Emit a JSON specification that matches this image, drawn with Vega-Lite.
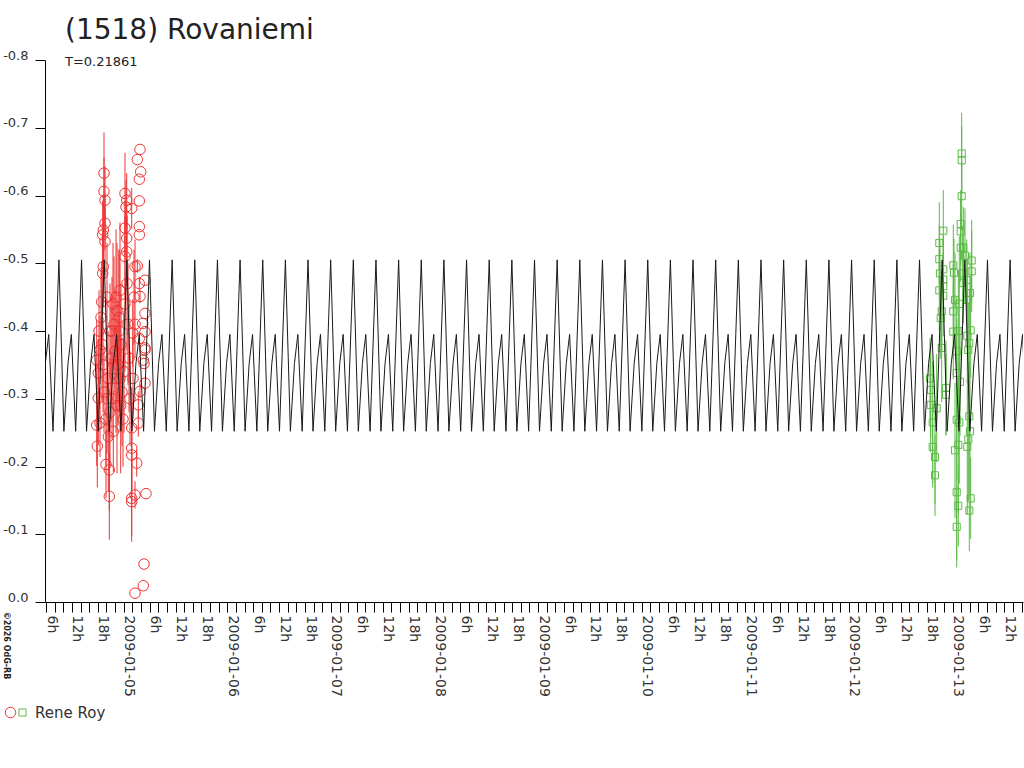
{
"$schema": "https://vega.github.io/schema/vega-lite/v6.json",
"width": 978, "height": 542,
"autosize": "none",
"padding": {"left": 45, "top": 60, "right": 1, "bottom": 166},
"background": "white",
"title": {"text": "(1518) Rovaniemi", "subtitle": "T=0.21861", "anchor": "start", "frame": "group", "dx": 20, "offset": -20, "font": "DejaVu Sans", "fontSize": 28, "fontWeight": "normal", "color": "#222", "subtitleFont": "DejaVu Sans", "subtitleFontSize": 13, "subtitleColor": "#222", "subtitlePadding": 11},
"config": {"view": {"stroke": null}, "legend": {"columnPadding": -8, "gridAlign": "none"}},
"datasets": {
"model": [
{"x":0.156,"y":-0.505},{"x":0.204,"y":-0.252},{"x":0.2434,"y":-0.352},{"x":0.2762,"y":-0.395},{"x":0.3177,"y":-0.252},
{"x":0.3746,"y":-0.505},{"x":0.4227,"y":-0.252},{"x":0.462,"y":-0.352},{"x":0.4948,"y":-0.395},{"x":0.5363,"y":-0.252},
{"x":0.5932,"y":-0.505},{"x":0.6413,"y":-0.252},{"x":0.6806,"y":-0.352},{"x":0.7134,"y":-0.395},{"x":0.7549,"y":-0.252},
{"x":0.8118,"y":-0.505},{"x":0.8599,"y":-0.252},{"x":0.8992,"y":-0.352},{"x":0.932,"y":-0.395},{"x":0.9736,"y":-0.252},
{"x":1.0304,"y":-0.505},{"x":1.0785,"y":-0.252},{"x":1.1178,"y":-0.352},{"x":1.1506,"y":-0.395},{"x":1.1922,"y":-0.252},
{"x":1.249,"y":-0.505},{"x":1.2971,"y":-0.252},{"x":1.3364,"y":-0.352},{"x":1.3692,"y":-0.395},{"x":1.4108,"y":-0.252},
{"x":1.4676,"y":-0.505},{"x":1.5157,"y":-0.252},{"x":1.5551,"y":-0.352},{"x":1.5879,"y":-0.395},{"x":1.6294,"y":-0.252},
{"x":1.6862,"y":-0.505},{"x":1.7343,"y":-0.252},{"x":1.7737,"y":-0.352},{"x":1.8065,"y":-0.395},{"x":1.848,"y":-0.252},
{"x":1.9048,"y":-0.505},{"x":1.9529,"y":-0.252},{"x":1.9923,"y":-0.352},{"x":2.0251,"y":-0.395},{"x":2.0666,"y":-0.252},
{"x":2.1234,"y":-0.505},{"x":2.1715,"y":-0.252},{"x":2.2109,"y":-0.352},{"x":2.2437,"y":-0.395},{"x":2.2852,"y":-0.252},
{"x":2.3421,"y":-0.505},{"x":2.3901,"y":-0.252},{"x":2.4295,"y":-0.352},{"x":2.4623,"y":-0.395},{"x":2.5038,"y":-0.252},
{"x":2.5607,"y":-0.505},{"x":2.6088,"y":-0.252},{"x":2.6481,"y":-0.352},{"x":2.6809,"y":-0.395},{"x":2.7224,"y":-0.252},
{"x":2.7793,"y":-0.505},{"x":2.8274,"y":-0.252},{"x":2.8667,"y":-0.352},{"x":2.8995,"y":-0.395},{"x":2.941,"y":-0.252},
{"x":2.9979,"y":-0.505},{"x":3.046,"y":-0.252},{"x":3.0853,"y":-0.352},{"x":3.1181,"y":-0.395},{"x":3.1597,"y":-0.252},
{"x":3.2165,"y":-0.505},{"x":3.2646,"y":-0.252},{"x":3.3039,"y":-0.352},{"x":3.3367,"y":-0.395},{"x":3.3783,"y":-0.252},
{"x":3.4351,"y":-0.505},{"x":3.4832,"y":-0.252},{"x":3.5225,"y":-0.352},{"x":3.5553,"y":-0.395},{"x":3.5969,"y":-0.252},
{"x":3.6537,"y":-0.505},{"x":3.7018,"y":-0.252},{"x":3.7412,"y":-0.352},{"x":3.774,"y":-0.395},{"x":3.8155,"y":-0.252},
{"x":3.8723,"y":-0.505},{"x":3.9204,"y":-0.252},{"x":3.9598,"y":-0.352},{"x":3.9926,"y":-0.395},{"x":4.0341,"y":-0.252},
{"x":4.0909,"y":-0.505},{"x":4.139,"y":-0.252},{"x":4.1784,"y":-0.352},{"x":4.2112,"y":-0.395},{"x":4.2527,"y":-0.252},
{"x":4.3095,"y":-0.505},{"x":4.3576,"y":-0.252},{"x":4.397,"y":-0.352},{"x":4.4298,"y":-0.395},{"x":4.4713,"y":-0.252},
{"x":4.5282,"y":-0.505},{"x":4.5762,"y":-0.252},{"x":4.6156,"y":-0.352},{"x":4.6484,"y":-0.395},{"x":4.6899,"y":-0.252},
{"x":4.7468,"y":-0.505},{"x":4.7949,"y":-0.252},{"x":4.8342,"y":-0.352},{"x":4.867,"y":-0.395},{"x":4.9085,"y":-0.252},
{"x":4.9654,"y":-0.505},{"x":5.0135,"y":-0.252},{"x":5.0528,"y":-0.352},{"x":5.0856,"y":-0.395},{"x":5.1271,"y":-0.252},
{"x":5.184,"y":-0.505},{"x":5.2321,"y":-0.252},{"x":5.2714,"y":-0.352},{"x":5.3042,"y":-0.395},{"x":5.3458,"y":-0.252},
{"x":5.4026,"y":-0.505},{"x":5.4507,"y":-0.252},{"x":5.49,"y":-0.352},{"x":5.5228,"y":-0.395},{"x":5.5644,"y":-0.252},
{"x":5.6212,"y":-0.505},{"x":5.6693,"y":-0.252},{"x":5.7086,"y":-0.352},{"x":5.7414,"y":-0.395},{"x":5.783,"y":-0.252},
{"x":5.8398,"y":-0.505},{"x":5.8879,"y":-0.252},{"x":5.9273,"y":-0.352},{"x":5.9601,"y":-0.395},{"x":6.0016,"y":-0.252},
{"x":6.0584,"y":-0.505},{"x":6.1065,"y":-0.252},{"x":6.1459,"y":-0.352},{"x":6.1787,"y":-0.395},{"x":6.2202,"y":-0.252},
{"x":6.277,"y":-0.505},{"x":6.3251,"y":-0.252},{"x":6.3645,"y":-0.352},{"x":6.3973,"y":-0.395},{"x":6.4388,"y":-0.252},
{"x":6.4956,"y":-0.505},{"x":6.5437,"y":-0.252},{"x":6.5831,"y":-0.352},{"x":6.6159,"y":-0.395},{"x":6.6574,"y":-0.252},
{"x":6.7143,"y":-0.505},{"x":6.7623,"y":-0.252},{"x":6.8017,"y":-0.352},{"x":6.8345,"y":-0.395},{"x":6.876,"y":-0.252},
{"x":6.9329,"y":-0.505},{"x":6.981,"y":-0.252},{"x":7.0203,"y":-0.352},{"x":7.0531,"y":-0.395},{"x":7.0946,"y":-0.252},
{"x":7.1515,"y":-0.505},{"x":7.1996,"y":-0.252},{"x":7.2389,"y":-0.352},{"x":7.2717,"y":-0.395},{"x":7.3132,"y":-0.252},
{"x":7.3701,"y":-0.505},{"x":7.4182,"y":-0.252},{"x":7.4575,"y":-0.352},{"x":7.4903,"y":-0.395},{"x":7.5319,"y":-0.252},
{"x":7.5887,"y":-0.505},{"x":7.6368,"y":-0.252},{"x":7.6761,"y":-0.352},{"x":7.7089,"y":-0.395},{"x":7.7505,"y":-0.252},
{"x":7.8073,"y":-0.505},{"x":7.8554,"y":-0.252},{"x":7.8947,"y":-0.352},{"x":7.9275,"y":-0.395},{"x":7.9691,"y":-0.252},
{"x":8.0259,"y":-0.505},{"x":8.074,"y":-0.252},{"x":8.1134,"y":-0.352},{"x":8.1462,"y":-0.395},{"x":8.1877,"y":-0.252},
{"x":8.2445,"y":-0.505},{"x":8.2926,"y":-0.252},{"x":8.332,"y":-0.352},{"x":8.3648,"y":-0.395},{"x":8.4063,"y":-0.252},
{"x":8.4631,"y":-0.505},{"x":8.5112,"y":-0.252},{"x":8.5506,"y":-0.352},{"x":8.5834,"y":-0.395},{"x":8.6249,"y":-0.252},
{"x":8.6817,"y":-0.505},{"x":8.7298,"y":-0.252},{"x":8.7692,"y":-0.352},{"x":8.802,"y":-0.395},{"x":8.8435,"y":-0.252},
{"x":8.9004,"y":-0.505},{"x":8.9484,"y":-0.252},{"x":8.9878,"y":-0.352},{"x":9.0206,"y":-0.395},{"x":9.0621,"y":-0.252},
{"x":9.119,"y":-0.505},{"x":9.1671,"y":-0.252},{"x":9.2064,"y":-0.352},{"x":9.2392,"y":-0.395},{"x":9.2807,"y":-0.252},
{"x":9.3376,"y":-0.505},{"x":9.3857,"y":-0.252},{"x":9.425,"y":-0.352},{"x":9.4578,"y":-0.395},{"x":9.4993,"y":-0.252},
{"x":9.5562,"y":-0.505},{"x":9.6043,"y":-0.252},{"x":9.6436,"y":-0.352},{"x":9.6764,"y":-0.395},{"x":9.7179,"y":-0.252},
{"x":9.7748,"y":-0.505}
],
"obs": [
{"s":"R1","x":1.1573,"y":-0.668,"e":0},{"s":"R1","x":1.1313,"y":-0.653,"e":0},{"s":"R1","x":1.1641,"y":-0.635,"e":0},{"s":"R1","x":1.1506,"y":-0.624,"e":0},
{"s":"R1","x":1.1506,"y":-0.592,"e":0},{"s":"R1","x":1.1506,"y":-0.554,"e":0},{"s":"R1","x":1.1506,"y":-0.542,"e":0},{"s":"R1","x":1.1313,"y":-0.496,"e":0.01},
{"s":"R1","x":1.1506,"y":-0.47,"e":0.01},{"s":"R1","x":1.2056,"y":-0.475,"e":0},{"s":"R1","x":1.1573,"y":-0.451,"e":0.01},{"s":"R1","x":1.2056,"y":-0.426,"e":0},
{"s":"R1","x":1.1834,"y":-0.411,"e":0},{"s":"R1","x":1.2056,"y":-0.399,"e":0},{"s":"R1","x":1.1506,"y":-0.389,"e":0.01},{"s":"R1","x":1.2056,"y":-0.372,"e":0},
{"s":"R1","x":1.1892,"y":-0.357,"e":0},{"s":"R1","x":1.2056,"y":-0.375,"e":0},{"s":"R1","x":1.1959,"y":-0.352,"e":0},{"s":"R1","x":1.2056,"y":-0.323,"e":0},
{"s":"R1","x":1.1573,"y":-0.311,"e":0.01},{"s":"R1","x":1.1409,"y":-0.291,"e":0.02},{"s":"R1","x":1.1409,"y":-0.264,"e":0.02},{"s":"R1","x":1.1255,"y":-0.205,"e":0.02},
{"s":"R1","x":1.2153,"y":-0.16,"e":0},{"s":"R1","x":1.1959,"y":-0.056,"e":0},{"s":"R1","x":1.1892,"y":-0.024,"e":0},{"s":"R1","x":1.1091,"y":-0.013,"e":0},
{"s":"R1","x":1.1091,"y":-0.158,"e":0.02},{"s":"R1","x":1.1091,"y":-0.495,"e":0.04},{"s":"R1","x":1.1091,"y":-0.41,"e":0.05},
{"s":"R1","x":0.8099,"y":-0.633,"e":0.06},{"s":"R1","x":0.8099,"y":-0.606,"e":0.05},{"s":"R1","x":0.8195,"y":-0.593,"e":0.05},{"s":"R1","x":1.0125,"y":-0.603,"e":0.06},
{"s":"R1","x":1.029,"y":-0.593,"e":0.04},{"s":"R1","x":1.0222,"y":-0.583,"e":0.04},{"s":"R1","x":1.0772,"y":-0.581,"e":0.03},{"s":"R1","x":1.0125,"y":-0.552,"e":0.04},
{"s":"R1","x":1.029,"y":-0.537,"e":0.04},{"s":"R1","x":0.8195,"y":-0.559,"e":0.04},{"s":"R1","x":0.8031,"y":-0.549,"e":0.05},{"s":"R1","x":0.7973,"y":-0.542,"e":0.05},
{"s":"R1","x":0.8195,"y":-0.532,"e":0.05},{"s":"R1","x":1.029,"y":-0.517,"e":0.05},{"s":"R1","x":1.0125,"y":-0.51,"e":0.06},{"s":"R1","x":0.8031,"y":-0.495,"e":0.06},
{"s":"R1","x":0.7973,"y":-0.485,"e":0.06},{"s":"R1","x":0.7876,"y":-0.443,"e":0.06},{"s":"R1","x":1.0869,"y":-0.397,"e":0.05},{"s":"R1","x":0.7712,"y":-0.372,"e":0.05},
{"s":"R1","x":0.7394,"y":-0.357,"e":0.06},{"s":"R1","x":0.7548,"y":-0.338,"e":0.05},{"s":"R1","x":0.7548,"y":-0.301,"e":0.07},{"s":"R1","x":0.7394,"y":-0.261,"e":0.06},
{"s":"R1","x":0.7712,"y":-0.264,"e":0.05},{"s":"R1","x":1.0772,"y":-0.257,"e":0.06},{"s":"R1","x":0.8996,"y":-0.252,"e":0.06},{"s":"R1","x":0.8514,"y":-0.244,"e":0.08},
{"s":"R1","x":0.7452,"y":-0.23,"e":0.061},{"s":"R1","x":1.0772,"y":-0.227,"e":0.06},{"s":"R1","x":1.0772,"y":-0.217,"e":0.07},{"s":"R1","x":0.8292,"y":-0.203,"e":0.05},
{"s":"R1","x":0.861,"y":-0.195,"e":0.06},{"s":"R1","x":0.861,"y":-0.156,"e":0.064},{"s":"R1","x":1.0772,"y":-0.153,"e":0.064},{"s":"R1","x":1.0772,"y":-0.148,"e":0.05},
{"s":"R1","x":0.971,"y":-0.29,"e":0.1},{"s":"R1","x":0.9353,"y":-0.43,"e":0.1},{"s":"R1","x":0.9546,"y":-0.4,"e":0.12},
{"s":"R1","x":0.7616,"y":-0.4,"e":0.06},{"s":"R1","x":0.7809,"y":-0.42,"e":0.07},{"s":"R1","x":0.7905,"y":-0.38,"e":0.08},{"s":"R1","x":0.8002,"y":-0.35,"e":0.07},
{"s":"R1","x":0.8099,"y":-0.31,"e":0.06},{"s":"R1","x":0.8292,"y":-0.27,"e":0.07},{"s":"R1","x":0.8388,"y":-0.3,"e":0.08},{"s":"R1","x":0.8485,"y":-0.33,"e":0.07},
{"s":"R1","x":0.8678,"y":-0.28,"e":0.08},{"s":"R1","x":0.8774,"y":-0.36,"e":0.09},{"s":"R1","x":0.8871,"y":-0.4,"e":0.08},{"s":"R1","x":0.8967,"y":-0.44,"e":0.09},
{"s":"R1","x":0.9064,"y":-0.41,"e":0.1},{"s":"R1","x":0.916,"y":-0.37,"e":0.09},{"s":"R1","x":0.9257,"y":-0.33,"e":0.08},{"s":"R1","x":0.9353,"y":-0.29,"e":0.1},
{"s":"R1","x":0.945,"y":-0.35,"e":0.09},{"s":"R1","x":0.9546,"y":-0.42,"e":0.1},{"s":"R1","x":0.9643,"y":-0.46,"e":0.1},{"s":"R1","x":0.9739,"y":-0.38,"e":0.09},
{"s":"R1","x":0.9836,"y":-0.31,"e":0.08},{"s":"R1","x":0.9932,"y":-0.27,"e":0.07},{"s":"R1","x":1.0029,"y":-0.34,"e":0.09},{"s":"R1","x":1.0125,"y":-0.44,"e":0.1},
{"s":"R1","x":1.0319,"y":-0.47,"e":0.1},{"s":"R1","x":1.0415,"y":-0.41,"e":0.09},{"s":"R1","x":1.0512,"y":-0.36,"e":0.08},{"s":"R1","x":1.0608,"y":-0.3,"e":0.07},
{"s":"R1","x":1.0898,"y":-0.33,"e":0.06},{"s":"R1","x":1.0994,"y":-0.45,"e":0.07},{"s":"R1","x":0.8388,"y":-0.45,"e":0.08},{"s":"R1","x":0.8678,"y":-0.4,"e":0.07},
{"s":"R1","x":0.8871,"y":-0.3,"e":0.06},{"s":"R1","x":0.9257,"y":-0.45,"e":0.1},{"s":"R1","x":0.9643,"y":-0.33,"e":0.08},
{"s":"R2","x":9.0888,"y":-0.662,"e":0.06},{"s":"R2","x":9.0888,"y":-0.652,"e":0.05},{"s":"R2","x":9.0888,"y":-0.599,"e":0.05},{"s":"R2","x":8.9112,"y":-0.548,"e":0.06},
{"s":"R2","x":8.8726,"y":-0.53,"e":0.06},{"s":"R2","x":9.0792,"y":-0.558,"e":0.05},{"s":"R2","x":9.0792,"y":-0.547,"e":0.05},{"s":"R2","x":9.1043,"y":-0.523,"e":0.06},
{"s":"R2","x":9.0792,"y":-0.523,"e":0.05},{"s":"R2","x":9.1207,"y":-0.511,"e":0.07},{"s":"R2","x":9.1853,"y":-0.504,"e":0.06},{"s":"R2","x":9.1853,"y":-0.488,"e":0.06},
{"s":"R2","x":9.0077,"y":-0.497,"e":0.06},{"s":"R2","x":9.0145,"y":-0.486,"e":0.05},{"s":"R2","x":8.8726,"y":-0.506,"e":0.05},{"s":"R2","x":8.8793,"y":-0.485,"e":0.05},
{"s":"R2","x":8.9112,"y":-0.491,"e":0.05},{"s":"R2","x":8.9112,"y":-0.476,"e":0.06},{"s":"R2","x":9.0985,"y":-0.485,"e":0.07},{"s":"R2","x":9.1371,"y":-0.475,"e":0.06},
{"s":"R2","x":9.1043,"y":-0.471,"e":0.06},{"s":"R2","x":8.8726,"y":-0.46,"e":0.06},{"s":"R2","x":8.9112,"y":-0.466,"e":0.05},{"s":"R2","x":8.9112,"y":-0.452,"e":0.06},
{"s":"R2","x":9.1689,"y":-0.456,"e":0.06},{"s":"R2","x":9.1429,"y":-0.446,"e":0.06},{"s":"R2","x":9.0241,"y":-0.446,"e":0.07},{"s":"R2","x":8.8958,"y":-0.429,"e":0.06},
{"s":"R2","x":9.0077,"y":-0.429,"e":0.07},{"s":"R2","x":8.8861,"y":-0.419,"e":0.06},{"s":"R2","x":9.1757,"y":-0.401,"e":0.07},{"s":"R2","x":9.0077,"y":-0.399,"e":0.07},
{"s":"R2","x":9.1429,"y":-0.393,"e":0.07},{"s":"R2","x":8.8958,"y":-0.375,"e":0.08},{"s":"R2","x":8.7828,"y":-0.33,"e":0.06},{"s":"R2","x":8.7896,"y":-0.313,"e":0.07},
{"s":"R2","x":8.9373,"y":-0.316,"e":0.07},{"s":"R2","x":8.9373,"y":-0.306,"e":0.06},{"s":"R2","x":9.0405,"y":-0.338,"e":0.08},{"s":"R2","x":9.0724,"y":-0.325,"e":0.08},
{"s":"R2","x":9.1622,"y":-0.382,"e":0.08},{"s":"R2","x":9.1525,"y":-0.372,"e":0.07},{"s":"R2","x":8.7896,"y":-0.291,"e":0.07},{"s":"R2","x":8.8475,"y":-0.286,"e":0.08},
{"s":"R2","x":8.8089,"y":-0.265,"e":0.09},{"s":"R2","x":9.0405,"y":-0.269,"e":0.09},{"s":"R2","x":9.0656,"y":-0.265,"e":0.09},{"s":"R2","x":9.1622,"y":-0.274,"e":0.08},
{"s":"R2","x":9.1689,"y":-0.252,"e":0.09},{"s":"R2","x":9.1525,"y":-0.24,"e":0.09},{"s":"R2","x":9.1429,"y":-0.229,"e":0.1},{"s":"R2","x":9.056,"y":-0.232,"e":0.1},
{"s":"R2","x":9.0241,"y":-0.224,"e":0.1},{"s":"R2","x":8.8089,"y":-0.229,"e":0.06},{"s":"R2","x":8.8311,"y":-0.214,"e":0.07},{"s":"R2","x":8.8311,"y":-0.187,"e":0.06},
{"s":"R2","x":9.0405,"y":-0.162,"e":0.1},{"s":"R2","x":9.056,"y":-0.142,"e":0.06},{"s":"R2","x":9.1757,"y":-0.153,"e":0.06},{"s":"R2","x":9.1622,"y":-0.135,"e":0.06},
{"s":"R2","x":9.0405,"y":-0.111,"e":0.06},{"s":"R2","x":9.0405,"y":-0.37,"e":0.08},{"s":"R2","x":9.056,"y":-0.4,"e":0.09},{"s":"R2","x":9.0656,"y":-0.44,"e":0.1}
]
},
"encoding": {
"x": {"field": "x", "type": "quantitative",
 "scale": {"domain": [0.2403, 9.6805], "nice": false, "zero": false},
 "axis": {"title": null, "grid": false, "values": [0.25,0.3333,0.4167,0.5,0.5833,0.6667,0.75,0.8333,0.9167,1,1.0833,1.1667,1.25,1.3333,1.4167,1.5,1.5833,1.6667,1.75,1.8333,1.9167,2,2.0833,2.1667,2.25,2.3333,2.4167,2.5,2.5833,2.6667,2.75,2.8333,2.9167,3,3.0833,3.1667,3.25,3.3333,3.4167,3.5,3.5833,3.6667,3.75,3.8333,3.9167,4,4.0833,4.1667,4.25,4.3333,4.4167,4.5,4.5833,4.6667,4.75,4.8333,4.9167,5,5.0833,5.1667,5.25,5.3333,5.4167,5.5,5.5833,5.6667,5.75,5.8333,5.9167,6,6.0833,6.1667,6.25,6.3333,6.4167,6.5,6.5833,6.6667,6.75,6.8333,6.9167,7,7.0833,7.1667,7.25,7.3333,7.4167,7.5,7.5833,7.6667,7.75,7.8333,7.9167,8,8.0833,8.1667,8.25,8.3333,8.4167,8.5,8.5833,8.6667,8.75,8.8333,8.9167,9,9.0833,9.1667,9.25,9.3333,9.4167,9.5,9.5833,9.6667],
  "labelExpr": "round(datum.value*24) % 6 != 0 ? '' : (round(datum.value*24) % 24 == 0 ? '2009-01-' + (round(datum.value)+4 < 10 ? '0' : '') + (round(datum.value)+4) : (round(datum.value*24) % 24) + 'h')",
  "labelAngle": 90, "labelAlign": "left", "labelBaseline": "middle", "labelOffset": 5, "labelPadding": 3, "tickSize": 10, "labelFlush": false, "labelOverlap": false,
  "labelFont": "DejaVu Sans", "labelFontSize": 14, "labelColor": "#333", "domainColor": "#000", "tickColor": "#000"}},
"y": {"field": "y", "type": "quantitative",
 "scale": {"domain": [-0.8, 0], "reverse": true, "nice": false, "zero": false},
 "axis": {"title": "©2026 OdG-RB", "titleAngle": 90, "titleX": -40, "titleY": 585, "titleAlign": "center", "titleBaseline": "middle", "titleFontSize": 8, "titleFont": "DejaVu Sans", "titleFontWeight": "bold", "titleColor": "#222",
  "grid": false, "values": [-0.8,-0.7,-0.6,-0.5,-0.4,-0.3,-0.2,-0.1,0], "labelExpr": "(datum.value < 0 ? '-' : '') + format(abs(datum.value), '.1f')", "tickSize": 10, "labelPadding": 7, "labelBaseline": "alphabetic", "labelOffset": -1, "labelFlush": false, "labelOverlap": false,
  "labelFont": "DejaVu Sans", "labelFontSize": 13, "labelColor": "#333", "domainColor": "#000", "tickColor": "#000"}}
},
"layer": [
{"data": {"name": "obs"}, "transform": [{"filter": "datum.s == 'R1'"}],
 "mark": {"type": "errorbar", "color": "#ee3333", "thickness": 1},
 "encoding": {"yError": {"field": "e"}}},
{"data": {"name": "obs"}, "transform": [{"filter": "datum.s == 'R2'"}],
 "mark": {"type": "errorbar", "color": "#5cba47", "thickness": 1},
 "encoding": {"yError": {"field": "e"}}},
{"data": {"name": "obs"},
 "mark": {"type": "point", "filled": false, "strokeWidth": 1, "opacity": 1},
 "encoding": {
  "color": {"field": "s", "type": "nominal", "scale": {"domain": ["R1","R2"], "range": ["#ee3333","#5cba47"]},
   "legend": {"title": null, "orient": "none", "legendX": -42, "legendY": 645, "direction": "horizontal", "labelExpr": "datum.label == 'R2' ? 'Rene Roy' : ''", "labelFont": "DejaVu Sans", "labelFontSize": 15, "labelColor": "#333", "symbolStrokeWidth": 1, "columnPadding": -8, "gridAlign": "none", "labelOffset": 5}},
  "shape": {"field": "s", "type": "nominal", "scale": {"domain": ["R1","R2"], "range": ["circle","square"]},
   "legend": {"title": null, "orient": "none", "legendX": -42, "legendY": 645, "direction": "horizontal", "labelExpr": "datum.label == 'R2' ? 'Rene Roy' : ''", "labelFont": "DejaVu Sans", "labelFontSize": 15, "labelColor": "#333", "symbolStrokeWidth": 1, "columnPadding": -8, "gridAlign": "none", "labelOffset": 5}},
  "size": {"field": "s", "type": "nominal", "scale": {"domain": ["R1","R2"], "range": [110, 50]}, "legend": null}
 }},
{"data": {"name": "model"},
 "mark": {"type": "line", "color": "#1a1a1a", "strokeWidth": 1, "clip": true},
 "encoding": {}}
]
}
